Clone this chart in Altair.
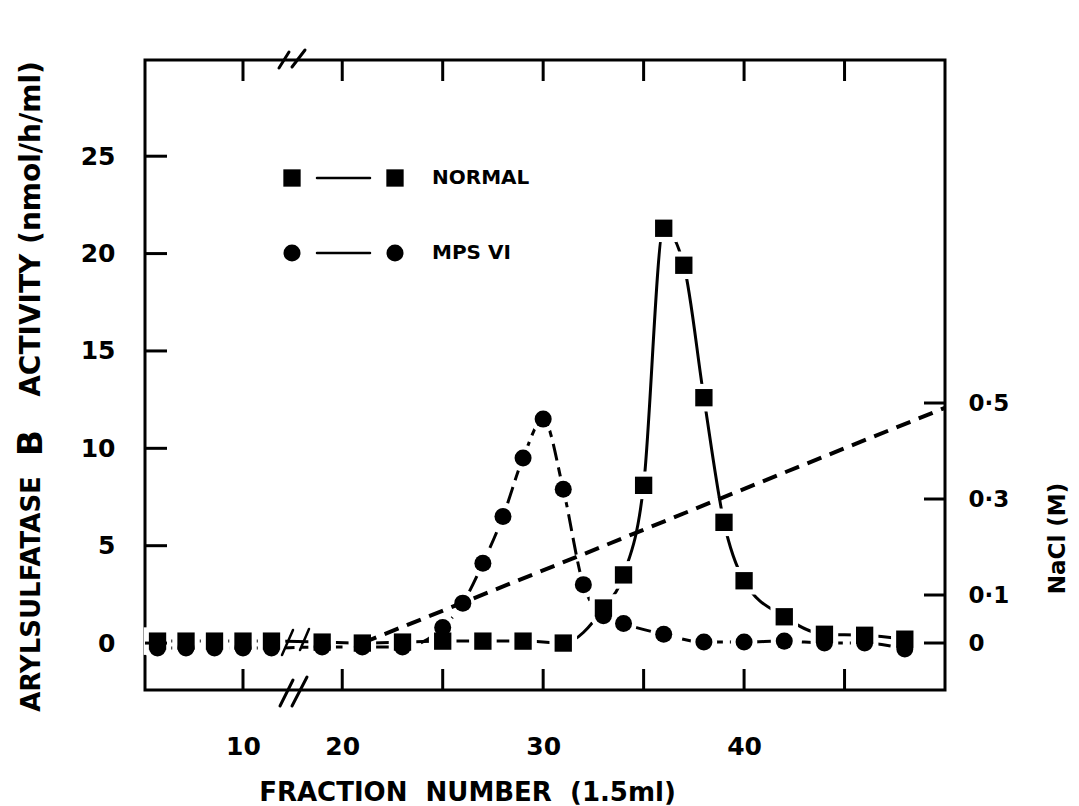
import altair as alt
import pandas as pd

# Arylsulfatase B activity (nmol/h/ml) per fraction
normal_fraction = [7, 8, 9, 10, 11, 19, 21, 23, 25, 27, 29, 31, 33, 34, 35, 36, 37, 38, 39, 40, 42, 44, 46, 48]
normal_activity = [0.1, 0.1, 0.1, 0.1, 0.1, 0.05, 0.0, 0.05, 0.1, 0.1, 0.1, 0.0, 1.8, 3.5, 8.1, 21.3, 19.4, 12.6,
                   6.2, 3.2, 1.35, 0.45, 0.4, 0.2]

mps_fraction = [7, 8, 9, 10, 11, 19, 21, 23, 25, 26, 27, 28, 29, 30, 31, 32, 33, 34, 36, 38, 40, 42, 44, 46, 48]
mps_activity = [-0.25, -0.25, -0.25, -0.25, -0.25, -0.2, -0.2, -0.2, 0.8, 2.05, 4.1, 6.5, 9.5, 11.5, 7.9, 3.0,
                1.4, 1.0, 0.45, 0.05, 0.05, 0.1, 0.0, 0.0, -0.3]

# NaCl gradient (M)
nacl_fraction = [21, 32, 42, 50]
nacl_molar = [0.0, 0.185, 0.355, 0.49]

x_label_values = [10, 20, 30, 40]
x_tick_values = [10, 20, 25, 30, 35, 40, 45]
activity_ticks = [0, 5, 10, 15, 20, 25]
nacl_ticks = [0, 0.1, 0.3, 0.5]

FONT = "DejaVu Sans"
W, H = 800, 630
NB = "\u00a0"

normal = pd.DataFrame({"fraction": normal_fraction, "activity": normal_activity})
mps = pd.DataFrame({"fraction": mps_fraction, "activity": mps_activity})
nacl = pd.DataFrame({"fraction": nacl_fraction, "nacl": nacl_molar})
xticks = pd.DataFrame({"fraction": x_tick_values})
yticks = pd.DataFrame({"activity": activity_ticks})
rticks = pd.DataFrame({"nacl": nacl_ticks})
one_row = pd.DataFrame({"k": [0]})

# broken fraction axis: a compressed low-fraction segment, then the main run
x_scale = alt.Scale(domain=[6.56, 11.65, 17.4, 50], range=[0, 145, 145, 800], nice=False, zero=False)
act_scale = alt.Scale(domain=[-2.41, 29.94], nice=False, zero=False)
nacl_scale = alt.Scale(domain=[-0.0979, 1.2146], nice=False, zero=False)

x_axis = alt.Axis(values=x_label_values, orient="bottom", ticks=False, domain=False, grid=False,
                  labelFont=FONT, labelFontSize=25, labelFontWeight="bold", labelPadding=44,
                  labelColor="black",
                  title=f"FRACTION{NB}{NB}NUMBER{NB}{NB}(1.5ml)", titleFont=FONT, titleFontSize=26,
                  titleFontWeight="bold", titleColor="black", titlePadding=20, titleX=322)
y_axis = alt.Axis(values=activity_ticks, orient="left", ticks=False, domain=False, grid=False,
                  labelFont=FONT, labelFontSize=25, labelFontWeight="bold", labelPadding=30,
                  labelColor="black", title=None)
r_axis = alt.Axis(values=nacl_ticks, orient="right", ticks=False, domain=False, grid=False,
                  labelFont=FONT, labelFontSize=23, labelFontWeight="bold", labelPadding=23,
                  labelColor="black",
                  labelExpr="datum.value == 0 ? '0' : replace(format(datum.value, '.1f'), '.', '·')",
                  title="NaCl (M)", titleFont=FONT, titleFontSize=23, titleFontWeight="bold",
                  titleColor="black", titleAngle=270, titleX=112, titleY=478, titleAlign="center",
                  titleBaseline="middle")

# every layer carries the same axis definition so the merged axes keep it
X = alt.X("fraction:Q", scale=x_scale, axis=x_axis)
Y = alt.Y("activity:Q", scale=act_scale, axis=y_axis)
R = alt.Y("nacl:Q", scale=nacl_scale, axis=r_axis)

normal_line = alt.Chart(normal).mark_line(color="black", strokeWidth=3, interpolate="monotone").encode(x=X, y=Y)
mps_line = alt.Chart(mps).mark_line(color="black", strokeWidth=3, strokeDash=[17, 7],
                                    interpolate="monotone").encode(x=X, y=Y)

normal_halo = alt.Chart(normal).mark_point(shape="square", filled=True, color="white", opacity=1,
                                           size=760).encode(x=X, y=Y)
mps_halo = alt.Chart(mps).mark_point(shape="circle", filled=True, color="white", opacity=1,
                                     size=700).encode(x=X, y=Y)
normal_pts = alt.Chart(normal).mark_point(shape="square", filled=True, color="black", opacity=1,
                                          size=300).encode(x=X, y=Y)
mps_pts = alt.Chart(mps).mark_point(shape="circle", filled=True, color="black", opacity=1,
                                    size=290).encode(x=X, y=Y)

# inward tick marks on all four sides
bottom_ticks = alt.Chart(xticks).mark_rule(color="black", strokeWidth=3).encode(
    x=X, y=alt.value(H - 21), y2=alt.value(H))
top_ticks = alt.Chart(xticks).mark_rule(color="black", strokeWidth=3).encode(
    x=X, y=alt.value(0), y2=alt.value(21))
left_ticks = alt.Chart(yticks).mark_rule(color="black", strokeWidth=3).encode(
    y=Y, x=alt.value(0), x2=alt.value(22))


def stroke(x1, y1, x2, y2, width=3):
    return alt.Chart(one_row).mark_rule(color="black", strokeWidth=width, strokeCap="round").encode(
        x=alt.value(x1), y=alt.value(y1), x2=alt.value(x2), y2=alt.value(y2))


# break symbols on the axes and on the baseline
breaks = [
    stroke(135, 646, 148, 620), stroke(147, 646, 162, 617),
    stroke(134, 8, 144, -8), stroke(147, 7, 160, -10),
    stroke(137, 595, 148, 570, 2.5), stroke(155, 590, 164, 569, 2.5),
]


def text(label, x, y, size, angle=0, align="center", weight="bold"):
    return alt.Chart(one_row).mark_text(font=FONT, fontSize=size, fontWeight=weight, color="black",
                                        angle=angle, align=align, baseline="middle").encode(
        x=alt.value(x), y=alt.value(y), text=alt.value(label))


# legend
legend = [
    alt.Chart(one_row).mark_point(shape="square", filled=True, color="black", opacity=1, size=300).encode(
        x=alt.value(147), y=alt.value(118)),
    alt.Chart(one_row).mark_point(shape="square", filled=True, color="black", opacity=1, size=300).encode(
        x=alt.value(250), y=alt.value(118)),
    stroke(172, 118, 225, 118, 2.5),
    text("NORMAL", 287, 118, 20, align="left"),
    alt.Chart(one_row).mark_point(shape="circle", filled=True, color="black", opacity=1, size=290).encode(
        x=alt.value(147), y=alt.value(193)),
    alt.Chart(one_row).mark_point(shape="circle", filled=True, color="black", opacity=1, size=290).encode(
        x=alt.value(250), y=alt.value(193)),
    stroke(172, 193, 225, 193, 2.5),
    text("MPS VI", 287, 193, 20, align="left"),
]

# left axis title with an enlarged "B"
y_title = [
    text("ARYLSULFATASE", -113, 534, 26, angle=270),
    text("B", -113, 383, 34, angle=270),
    text("ACTIVITY (nmol/h/ml)", -113, 169, 28, angle=270),
]

left_group = alt.layer(
    normal_line, mps_line, normal_halo, mps_halo, normal_pts, mps_pts,
    bottom_ticks, top_ticks, left_ticks, *breaks, *legend, *y_title,
)

nacl_line = alt.Chart(nacl).mark_line(color="black", strokeWidth=4, strokeDash=[15, 9]).encode(x=X, y=R)
right_ticks = alt.Chart(rticks).mark_rule(color="black", strokeWidth=3).encode(
    y=R, x=alt.value(W - 21), x2=alt.value(W))
right_group = alt.layer(nacl_line, right_ticks)

chart = alt.layer(left_group, right_group).resolve_scale(y="independent").properties(
    width=W, height=H,
    autosize=alt.AutoSizeParams(type="none"),
    padding={"left": 145, "top": 60, "right": 134, "bottom": 116},
    background="white",
).configure_view(stroke="black", strokeWidth=3)

chart.save("out.html", embed_options={"renderer": "svg", "actions": False})
